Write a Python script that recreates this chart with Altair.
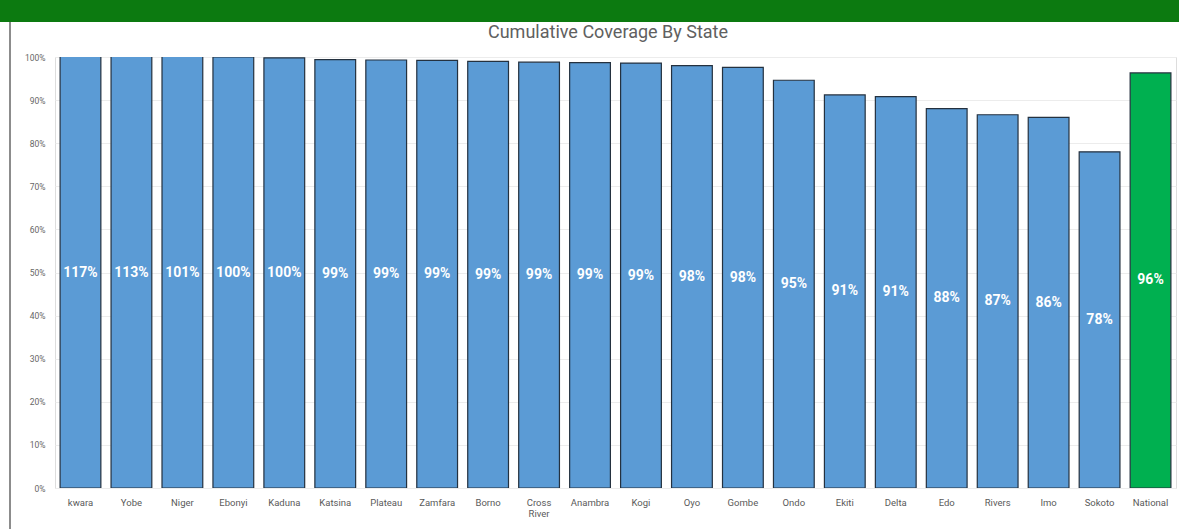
import altair as alt
import pandas as pd

states = ["kwara", "Yobe", "Niger", "Ebonyi", "Kaduna", "Katsina", "Plateau", "Zamfara",
          "Borno", "Cross River", "Anambra", "Kogi", "Oyo", "Gombe", "Ondo", "Ekiti",
          "Delta", "Edo", "Rivers", "Imo", "Sokoto", "National"]
coverage = [1.17, 1.13, 1.01, 1.00, 0.998, 0.994, 0.993, 0.992, 0.99, 0.988, 0.987, 0.986,
            0.98, 0.976, 0.946, 0.912, 0.908, 0.88, 0.866, 0.86, 0.78, 0.963]
group = ["State"] * 21 + ["National"]
y_ticks = [0, 0.1, 0.2, 0.3, 0.4, 0.5, 0.6, 0.7, 0.8, 0.9, 1.0]
title_text = ["Cumulative Coverage By State"]

df = pd.DataFrame({"state": states, "coverage": coverage, "group": group})

FONT = "Roboto"

x_enc = alt.X("state:N", sort=states,
              scale=alt.Scale(paddingInner=0.2, paddingOuter=0.1),
              axis=alt.Axis(title=None, labelAngle=0, ticks=False, domain=False,
                            labelPadding=9, labelFontSize=9.5, labelColor="#5a5a5a",
                            labelFont=FONT, labelLineHeight=11,
                            labelExpr="split(datum.value, ' ')"))

bars = alt.Chart(df).mark_bar(clip=True, stroke="#24313f", strokeWidth=1.2).encode(
    x=x_enc,
    y=alt.Y("coverage:Q", scale=alt.Scale(domain=[0, 1], nice=False),
            axis=alt.Axis(title=None, values=y_ticks, format=".0%", ticks=False,
                          domain=False, labelPadding=10, labelFontSize=8.5,
                          labelColor="#666666", labelFont=FONT,
                          gridColor="#ececec", gridWidth=1)),
    color=alt.Color("group:N",
                    scale=alt.Scale(domain=["State", "National"],
                                    range=["#5b9bd5", "#00b050"]),
                    legend=None),
)

labels = alt.Chart(df).transform_calculate(
    mid="min(datum.coverage, 1) / 2"
).mark_text(color="white", fontWeight="bold", fontSize=14, font=FONT).encode(
    x=alt.X("state:N", sort=states),
    y=alt.Y("mid:Q"),
    text=alt.Text("coverage:Q", format=".0%"),
)

band = alt.Chart(pd.DataFrame({"a": [0]})).mark_rect(color="#0c7a10").encode(
    x=alt.value(-55), x2=alt.value(1124), y=alt.value(-57), y2=alt.value(-35)
)

border = alt.Chart(pd.DataFrame({"a": [0]})).mark_rule(color="#8c8c8c", strokeWidth=2).encode(
    x=alt.value(-45), y=alt.value(-35), y2=alt.value(472)
)

title = alt.Chart(pd.DataFrame({"t": title_text})).mark_text(
    fontSize=18, font=FONT, color="#606060", baseline="alphabetic", align="center"
).encode(text="t:N", x=alt.value(553), y=alt.value(-19))

chart = alt.layer(band, border, bars, labels, title).properties(
    width=1121,
    height=431,
    autosize=alt.AutoSizeParams(type="none"),
    padding={"left": 55, "top": 57, "right": 3, "bottom": 41},
).configure_view(strokeWidth=0).configure(background="white")

chart.save("out.html", embed_options={"renderer": "svg", "actions": False})
